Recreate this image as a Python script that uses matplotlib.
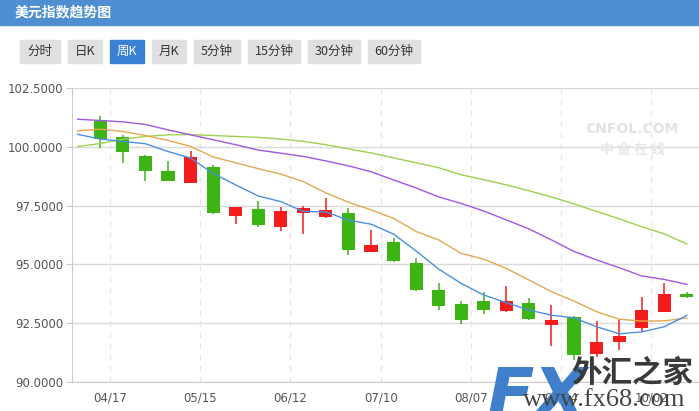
import numpy as np
import matplotlib.pyplot as plt
from matplotlib.patches import Rectangle

plt.rcParams['font.family'] = ['Noto Sans CJK SC', 'DejaVu Sans']

# weekly candles (green = down, red = up)
opens = [101.08, 100.41, 99.62, 98.98, 98.48, 99.15, 97.07, 97.36, 96.61, 97.20,
         97.03, 97.19, 95.54, 95.94, 95.06, 93.91, 93.31, 93.45, 93.03, 93.36,
         92.43, 92.76, 91.18, 91.71, 92.30, 92.99, 93.74]
closes = [100.35, 99.80, 98.99, 98.56, 99.57, 97.20, 97.44, 96.69, 97.27, 97.40,
          97.32, 95.63, 95.83, 95.16, 93.92, 93.24, 92.64, 93.07, 93.45, 92.69,
          92.63, 91.15, 91.69, 91.95, 93.06, 93.74, 93.62]
highs = [101.33, 100.51, 99.66, 99.40, 99.83, 99.23, 97.44, 97.71, 97.44, 97.49,
         97.83, 97.41, 96.46, 96.11, 95.27, 94.21, 93.44, 93.82, 94.08, 93.57,
         93.27, 92.80, 92.59, 92.64, 93.61, 94.22, 93.82]
lows = [99.97, 99.33, 98.56, 98.56, 98.44, 97.16, 96.73, 96.61, 96.44, 96.28,
        96.99, 95.41, 95.54, 95.11, 93.88, 93.06, 92.47, 92.90, 92.99, 92.63,
        91.52, 90.94, 91.05, 91.38, 92.13, 92.99, 93.58]

# moving averages, first value belongs to the week before the first candle
ma_blue = [100.53, 100.33, 100.23, 100.13, 99.80, 99.52, 98.87, 98.38, 97.91, 97.67,
           97.25, 97.23, 96.88, 96.71, 96.29, 95.57, 94.80, 94.19, 93.70, 93.37,
           93.06, 92.84, 92.73, 92.35, 92.05, 92.13, 92.35, 92.83]
ma_orange = [100.68, 100.75, 100.65, 100.48, 100.27, 100.02, 99.57, 99.32, 99.07, 98.84,
             98.52, 98.04, 97.64, 97.32, 96.96, 96.40, 96.04, 95.47, 95.22, 94.83,
             94.34, 93.84, 93.44, 92.99, 92.67, 92.59, 92.60, 92.72]
ma_purple = [101.17, 101.12, 101.06, 100.95, 100.72, 100.51, 100.30, 100.09, 99.86, 99.73,
             99.59, 99.40, 99.19, 98.94, 98.59, 98.25, 97.87, 97.59, 97.27, 96.89,
             96.51, 96.04, 95.55, 95.19, 94.86, 94.51, 94.36, 94.15]
ma_green = [100.01, 100.14, 100.32, 100.44, 100.51, 100.52, 100.48, 100.44, 100.40, 100.33,
            100.23, 100.09, 99.91, 99.74, 99.53, 99.32, 99.11, 98.81, 98.60, 98.38,
            98.13, 97.87, 97.57, 97.25, 96.94, 96.60, 96.30, 95.87]

date_labels = ['04/17', '05/15', '06/12', '07/10', '08/07', '09/04', '10/02']
buttons = ['分时', '日K', '周K', '月K', '5分钟', '15分钟', '30分钟', '60分钟']
y_ticks = [90, 92.5, 95, 97.5, 100, 102.5]

up_color = '#f21c1c'
down_color = '#3cb414'

fig = plt.figure(figsize=(6.99, 4.11), dpi=100)

# page background: header bar and period buttons
bg = fig.add_axes([0, 0, 1, 1])
bg.set_xlim(0, 699)
bg.set_ylim(411, 0)
bg.axis('off')
bg.add_patch(Rectangle((0, 0), 699, 25, color='#4d8fd1'))
bg.text(15, 12.5, '美元指数趋势图', color='white', fontsize=10, fontweight='bold', va='center')

btn_x = [20, 68, 110, 152, 194, 248, 308, 368]
btn_w = [40, 34, 34, 34, 46, 52, 52, 52]
for i, name in enumerate(buttons):
    sel = name == '周K'
    bg.add_patch(Rectangle((btn_x[i], 40), btn_w[i], 23,
                           color='#3a80d4' if sel else '#e0e0e0'))
    bg.text(btn_x[i] + btn_w[i] / 2, 51.5, name, ha='center', va='center', fontsize=9,
            color='white' if sel else '#333333')

# main chart
ax = fig.add_axes([72 / 699, 29 / 411, 627 / 699, 294 / 411])
x = np.arange(len(opens))
for i in x:
    o, c = opens[i], closes[i]
    col = up_color if c >= o else down_color
    ax.vlines(i, lows[i], highs[i], color=col, lw=1.1, zorder=2)
    ax.bar(i, max(abs(c - o), 0.03), bottom=min(o, c), width=0.58, color=col, zorder=2)

xm = np.arange(-1, len(opens))
ax.plot(xm, ma_green, color='#9fd150', lw=1, zorder=3)
ax.plot(xm, ma_purple, color='#a456e0', lw=1, zorder=3)
ax.plot(xm, ma_orange, color='#e3a850', lw=1, zorder=3)
ax.plot(xm, ma_blue, color='#4a90e2', lw=1, zorder=3)

ax.set_xlim(-1.254, 26.54)
ax.set_ylim(90, 102.5)
ax.set_yticks(y_ticks)
ax.set_yticklabels(['%.4f' % v for v in y_ticks], family='DejaVu Sans')
ax.set_xticks([0.43 + 4 * k for k in range(len(date_labels))])
ax.set_xticklabels(date_labels, family='DejaVu Sans')
ax.tick_params(axis='y', length=4, color='#cccccc', labelsize=8.5, labelcolor='#555555', pad=2)
ax.tick_params(axis='x', length=0, labelsize=8.5, labelcolor='#555555', pad=7)
ax.grid(axis='y', color='#dadada', lw=1)
ax.grid(axis='x', color='#e6e6e6', lw=1, ls=(0, (4, 4)))
ax.set_axisbelow(True)
for s in ['top', 'right']:
    ax.spines[s].set_visible(False)
for s in ['left', 'bottom']:
    ax.spines[s].set_color('#cccccc')

# watermarks
wm = fig.add_axes([0, 0, 1, 1], zorder=5)
wm.set_xlim(0, 699)
wm.set_ylim(411, 0)
wm.axis('off')
wm.text(632, 129, 'CNFOL.COM', ha='center', va='center', fontsize=10, fontweight='bold',
        color='#e3e3e3', family='DejaVu Sans')
wm.text(632, 150, '中 金 在 线', ha='center', va='center', fontsize=10, fontweight='bold',
        color='#e8e8e8')
wm.text(537, 418, 'FX', ha='center', va='baseline', fontsize=50, fontweight='bold',
        style='italic', color='#3f7fcc', family='Liberation Sans Narrow')
wm.text(632, 373, '外汇之家', ha='center', va='center', fontsize=22, fontweight='bold',
        color='#3a3a3a')
wm.text(604, 400, 'www.fx68.com', ha='center', va='center', fontsize=19,
        color='#444444', family='Liberation Serif')

fig.savefig('out.png', dpi=100)
